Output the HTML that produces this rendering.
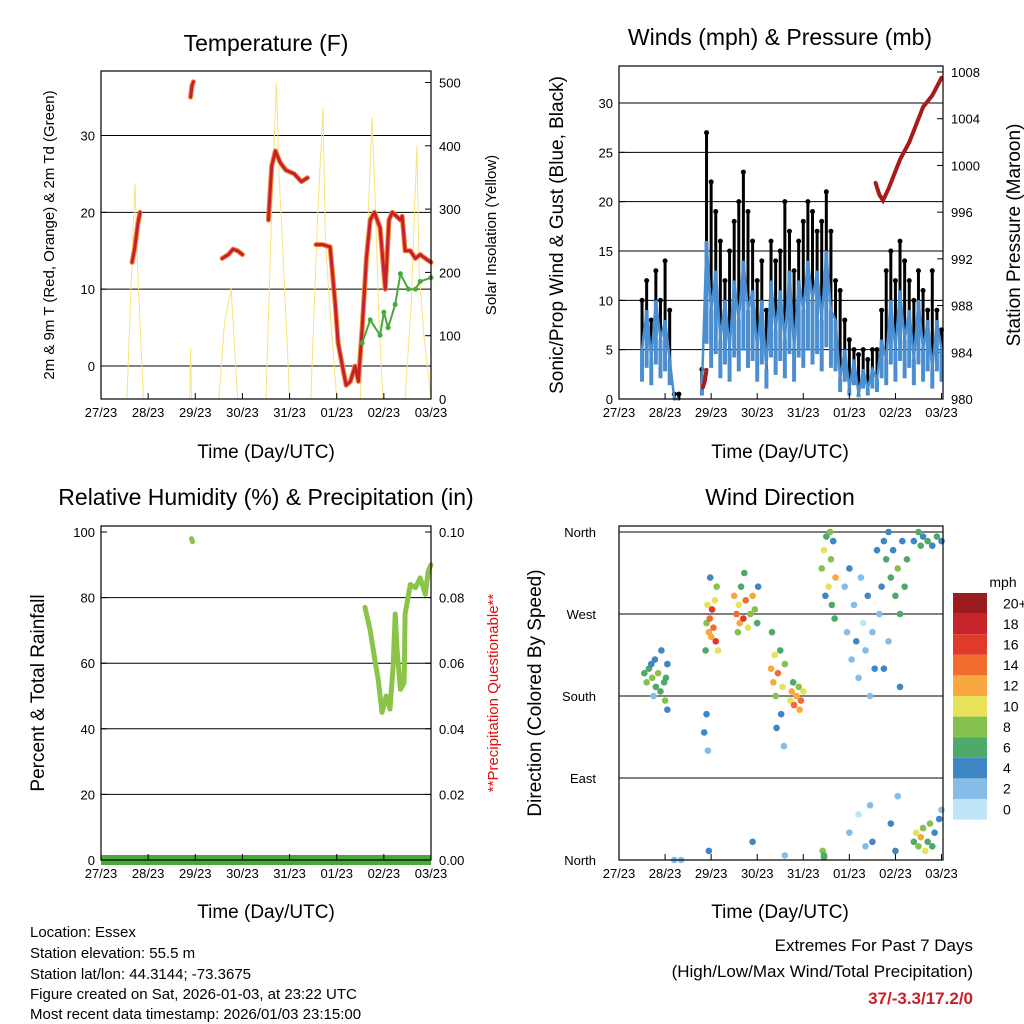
<!DOCTYPE html>
<html><head><meta charset="utf-8">
<style>
html,body{margin:0;padding:0;background:#fff;}
svg{display:block;font-family:"Liberation Sans",sans-serif;}
</style></head>
<body>
<svg id="root" width="1024" height="1024" viewBox="0 0 1024 1024" xmlns="http://www.w3.org/2000/svg">
<g id="g1"></g>
<g id="g2"></g>
<g id="g3"></g>
<g id="g4"></g>
<g id="info">
<text x="30" y="937" font-size="15">Location: Essex</text>
<text x="30" y="958" font-size="15">Station elevation: 55.5 m</text>
<text x="30" y="979" font-size="15">Station lat/lon: 44.3144; -73.3675</text>
<text x="30" y="999" font-size="15">Figure created on Sat, 2026-01-03, at 23:22 UTC</text>
<text x="30" y="1019" font-size="15">Most recent data timestamp: 2026/01/03 23:15:00</text>
</g>
<g>
<text x="973" y="951" font-size="17" text-anchor="end">Extremes For Past 7 Days</text>
<text x="973" y="977" font-size="17" text-anchor="end">(High/Low/Max Wind/Total Precipitation)</text>
<text x="973" y="1004" font-size="17" font-weight="bold" fill="#c8202a" text-anchor="end">37/-3.3/17.2/0</text>
</g>
</svg>
<script>
// ---------- data ----------
const dayLabels = ["27/23","28/23","29/23","30/23","31/23","01/23","02/23","03/23"];
const tempTicks = [0,10,20,30];
const solarTicks = [0,100,200,300,400,500];
const windTicks = [0,5,10,15,20,25,30];
const presTicks = [980,984,988,992,996,1000,1004,1008];
const rhTicks = [0,20,40,60,80,100];
const rainTicks = ["0.00","0.02","0.04","0.06","0.08","0.10"];
const dirLabels = ["North","East","South","West","North"];
const speedBins = ["0","2","4","6","8","10","12","14","16","18","20+"];
const speedColors = ["#bfe6f8","#86bde8","#3f86c5","#4ea96a","#86c04f","#e8e15a","#f9a841","#f26b2f","#e03a2b","#c4242a","#9b1c1f"];

const tempT = [0.66,0.72,0.78,0.83,NaN,1.90,1.93,1.96,NaN,2.57,2.7,2.8,2.9,3.0,NaN,3.55,3.62,3.7,3.8,3.92,4.1,4.25,4.38,NaN,4.56,4.7,4.86,4.97,5.03,5.12,5.2,5.29,5.39,5.46,5.54,5.63,5.71,5.8,5.92,6.03,6.11,6.18,6.35,6.39,6.45,6.56,6.67,6.77,6.88,7.0];
const tempV = [13.5,15.5,18.5,20,NaN,35,36.5,37,NaN,14,14.5,15.2,15,14.5,NaN,19,26,28,26.5,25.5,25,24,24.5,NaN,15.8,15.8,15.5,8,3,0,-2.5,-2,0,-2,5,14,19,20,18,10,19,20,19,19.5,15,15,14,14.5,14,13.5];
const dewT = [5.54,5.71,5.92,6.0,6.09,6.24,6.35,6.52,6.67,6.77,7.0];
const dewV = [3,6,4,7,5,8,12,10,10,11,11.5];
const solarT = [0.55,0.66,0.72,0.78,0.9,NaN,1.88,1.9,1.92,NaN,2.5,2.62,2.76,2.82,2.9,NaN,3.5,3.62,3.72,3.78,3.88,4.0,NaN,4.45,4.6,4.71,4.76,4.85,5.0,NaN,5.5,5.62,5.75,5.8,5.9,5.98,NaN,6.45,6.58,6.7,6.75,6.85,7.0];
const solarV = [0,220,340,200,0,NaN,0,80,0,NaN,0,120,175,100,0,NaN,0,300,500,350,200,0,NaN,0,300,460,250,150,0,NaN,0,200,445,350,120,0,NaN,0,150,400,200,100,0];

const windT = [0.5,0.6,0.7,0.8,0.9,1.0,1.1,1.2,1.3,1.4,1.5,1.6,1.7,1.8,1.9,2.0,2.1,2.2,2.3,2.4,2.5,2.6,2.7,2.8,2.9,3.0,3.1,3.2,3.3,3.4,3.5,3.6,3.7,3.8,3.9,4.0,4.1,4.2,4.3,4.4,4.5,4.6,4.7,4.8,4.9,5.0,5.1,5.2,5.3,5.4,5.5,5.6,5.7,5.8,5.9,6.0,6.1,6.2,6.3,6.4,6.5,6.6,6.7,6.8,6.9,7.0];
const gustV = [10,12,8,13,10,14,9,0.5,0.5,NaN,NaN,NaN,NaN,3,27,22,19,16,12,15,18,20,23,19,16,12,14,9,16,14,15,20,17,13,16,18,20,19,17,18,21,17,12,11,8,6,5,4.5,5,4,5,5,9,13,15,12,16,14,12,10,13,11,9,13,9,7];
const windV = [5,9,4,10,6,8,4,0,0,NaN,NaN,NaN,NaN,1,16,9,13,6,10,5,12,8,14,9,11,5,10,3,12,7,11,6,13,5,12,9,14,10,13,8,15,9,8,2,5,1,4,0.5,3,1,3,2,6,4,10,5,11,6,9,4,10,5,8,3,8,5];
const presT = [1.82,1.86,1.9,NaN,5.57,5.65,5.73,5.85,6.1,6.3,6.5,6.6,6.8,7.0];
const presV = [981,981.5,982.5,NaN,998.5,997.5,997,998,1000.5,1002,1004,1005,1006,1007.5];

const rhT = [1.92,1.94,NaN,5.6,5.71,5.82,5.88,5.96,6.05,6.13,6.2,6.24,6.28,6.35,6.43,6.45,6.56,6.67,6.77,6.88,6.94,7.0];
const rhV = [98,97,NaN,77,70,60,55,45,50,46,60,75,64,52,54,75,84,83,86,81,88,90];
const rainT = [0,7];
const rainV = [0,0];

const dirObs = [[0.55,205,6],[0.6,195,7],[0.65,210,5],[0.7,215,4],[0.72,200,8],[0.78,220,3],[0.8,190,6],[0.85,205,7],[0.9,185,5],[0.92,230,4],[0.98,195,6],[1.0,175,7],[1.02,200,5],[1.05,165,3],[1.05,215,4],[0.75,180,2],
[1.85,140,4],[1.88,230,5],[1.9,260,8],[1.92,280,10],[1.95,250,12],[1.97,265,14],[2.0,245,11],[2.02,275,16],[2.05,255,13],[2.08,285,9],[2.1,240,15],[1.9,160,3],[1.93,120,2],[1.98,310,4],[2.12,300,7],[2.15,230,10],
[2.5,290,12],[2.55,270,14],[2.6,280,9],[2.62,260,11],[2.65,300,6],[2.7,265,16],[2.75,285,13],[2.8,255,10],[2.85,270,7],[2.9,290,12],[2.95,275,8],[3.0,260,5],[3.02,300,4],[2.58,250,8],[2.72,315,5],
[3.3,210,11],[3.35,195,12],[3.38,225,10],[3.4,180,8],[3.45,205,13],[3.5,230,6],[3.52,160,4],[3.55,190,9],[3.6,215,7],[3.42,145,3],[3.58,125,2],[3.32,250,5],
[3.72,175,10],[3.75,185,12],[3.8,170,14],[3.85,180,11],[3.9,190,8],[3.95,175,13],[4.0,185,9],[3.78,195,6],[3.92,165,12],
[4.4,320,7],[4.45,340,9],[4.5,355,6],[4.55,300,10],[4.6,330,8],[4.62,280,5],[4.65,350,4],[4.7,310,11],[4.48,290,3],[4.58,360,7],[4.68,265,6],[4.42,10,7],[4.45,5,5],
[4.9,300,2],[4.95,250,1],[5.0,320,3],[5.05,220,2],[5.1,280,1],[5.15,240,3],[5.2,200,2],[5.25,310,1],[5.3,260,0],[5.35,230,2],[5.4,290,3],[5.45,180,1],[5.5,250,2],[5.55,210,4],[5.6,340,3],[5.65,270,2],[5.0,30,1],[5.2,50,0],[5.35,15,2],[5.45,60,1],[5.5,20,3],
[5.7,300,3],[5.75,350,4],[5.8,330,5],[5.85,360,4],[5.9,310,6],[5.95,340,3],[6.0,290,5],[6.05,320,7],[6.1,270,6],[6.15,350,4],[6.2,300,6],[6.25,330,5],[5.75,210,4],[5.85,240,2],[6.1,190,3],[5.9,40,3],[6.0,10,4],[6.05,70,2],
[6.4,350,4],[6.5,360,6],[6.55,345,5],[6.6,355,3],[6.7,350,6],[6.8,345,4],[6.9,355,5],[7.0,350,4],[6.4,20,6],[6.45,30,10],[6.5,15,8],[6.55,25,12],[6.6,35,7],[6.65,10,9],[6.7,20,6],[6.75,40,8],[6.8,15,5],[6.85,30,4],[6.95,45,3],[7.0,55,2],
[1.2,0,1],[1.35,0,1],[1.95,10,3],[2.9,20,3],[3.6,5,2],[4.45,3,6]];

// ---------- helpers ----------
const NS = "http://www.w3.org/2000/svg";
function mk(parent, tag, attrs, text){
  const e = document.createElementNS(NS, tag);
  for (const k in attrs) e.setAttribute(k, attrs[k]);
  if (text !== undefined) e.textContent = text;
  parent.appendChild(e);
  return e;
}
function lin(d0,d1,r0,r1){ return v => r0 + (v-d0)*(r1-r0)/(d1-d0); }
function pathFrom(T,V,sx,sy){
  let d="", pen=false;
  for (let i=0;i<T.length;i++){
    if (isNaN(T[i])||isNaN(V[i])){pen=false;continue;}
    d += (pen?"L":"M") + sx(T[i]).toFixed(1)+","+sy(V[i]).toFixed(1);
    pen=true;
  }
  return d;
}
function speedColor(s){ let i=Math.min(10,Math.floor((s+1)/2)); if(s>=20) i=10; return speedColors[i]; }

function frame(g, L, T, R, B, xs){
  dayLabels.forEach((lab,i)=>{
    const x = xs(i);
    const tk = mk(g,"line",{x1:x,y1:B,x2:x,y2:B-6,stroke:"#000","stroke-width":1});
    
    
    const t = mk(g,"text",{x:x,y:B+18,"font-size":13,"text-anchor":"middle"},lab);
    
    
  });
  const r = mk(g,"rect",{x:L,y:T,width:R-L,height:B-T,fill:"none",stroke:"#000","stroke-width":1.2});
  
  
}
function hText(g,x,y,size,txt,name,anchor,extra){
  const t = mk(g,"text",Object.assign({x:x,y:y,"font-size":size,"text-anchor":anchor||"middle"},extra||{}),txt);
  
  
  return t;
}
function vText(g,x,y,size,txt,name,fill){
  const t = mk(g,"text",{x:x,y:y,"font-size":size,"text-anchor":"middle",transform:"rotate(-90 "+x+" "+y+")",fill:fill||"#000"},txt);
  
  
  return t;
}
function yAxis(g, ticks, sy, x, side, grid, L, R, labels){
  ticks.forEach((v,i)=>{
    const y = sy(v);
    if (grid) { const gl = mk(g,"line",{x1:L,y1:y,x2:R,y2:y,stroke:"#000","stroke-width":1});
      
       }
    const tk = mk(g,"line",{x1:x,y1:y,x2:x+(side==="left"?6:-6),y2:y,stroke:"#000"});
    
    
    const t = mk(g,"text",{x:side==="left"?x-6:x+8,y:y+5,"font-size":13,"text-anchor":side==="left"?"end":"start"},labels?labels[i]:String(v));
    
    
  });
}

// ---------- Panel 1: Temperature ----------
(function(){
  const g = document.getElementById("g1");
  const L=101,R=431,T=71,B=399;
  const sx = lin(0,7,L,R), sy = lin(0,30,366,135.5), ss = lin(0,500,399,82.5);
  yAxis(g,tempTicks,sy,L,"left",true,L,R);
  yAxis(g,solarTicks,ss,R,"right",false,L,R);
  const sol = mk(g,"path",{d:pathFrom(solarT,solarV,sx,ss),fill:"none",stroke:"#fae27a","stroke-width":1});
  
  
  const o = mk(g,"path",{d:pathFrom(tempT,tempV,sx,sy),fill:"none",stroke:"#f08a3c","stroke-width":5,"stroke-linejoin":"round","stroke-linecap":"round"});
  
  
  const r = mk(g,"path",{d:pathFrom(tempT,tempV,sx,sy),fill:"none",stroke:"#c8202a","stroke-width":3,"stroke-linejoin":"round","stroke-linecap":"round"});
  
  
  const dl = mk(g,"path",{d:pathFrom(dewT,dewV,sx,sy),fill:"none",stroke:"#4aa83a","stroke-width":2});
  
  
  dewT.forEach((t,i)=>{
    const c = mk(g,"circle",{cx:sx(t),cy:sy(dewV[i]),r:2.5,fill:"#4aa83a"});
    
    
  });
  frame(g,L,T,R,B,sx);
  hText(g,266,51,23,"Temperature (F)","chart-title");
  hText(g,266,458,19,"Time (Day/UTC)","x-axis-title");
  vText(g,54,235,15,"2m & 9m T (Red, Orange) & 2m Td (Green)","y-axis-title");
  vText(g,496,235,15,"Solar Insolation (Yellow)","y2-axis-title");
})();

// ---------- Panel 2: Winds ----------
(function(){
  const g = document.getElementById("g2");
  const L=619,R=943,T=66,B=399;
  const sx = lin(0,7,L,941.5), sy = lin(0,30,399,103), sp = lin(980,1008,399,72);
  yAxis(g,windTicks,sy,L,"left",true,L,R);
  yAxis(g,presTicks,sp,R,"right",false,L,R);
  windT.forEach((t,i)=>{
    if (isNaN(gustV[i])) return;
    const b = mk(g,"line",{x1:sx(t),y1:sy(windV[i]),x2:sx(t),y2:sy(gustV[i]),stroke:"#000","stroke-width":3,"stroke-linecap":"round"});
    
    
    const c = mk(g,"circle",{cx:sx(t),cy:sy(gustV[i]),r:2.5,fill:"#000"});
    
    
  });
  windT.forEach((t,i)=>{
    if (isNaN(windV[i])) return;
    const b = mk(g,"line",{x1:sx(t),y1:sy(windV[i]*0.35),x2:sx(t),y2:sy(windV[i]),stroke:"#4b8fd0","stroke-width":4});
    
    
  });
  const wl = mk(g,"path",{d:pathFrom(windT,windV,sx,sy),fill:"none",stroke:"#4b8fd0","stroke-width":2.5});
  
  
  const pl = mk(g,"path",{d:pathFrom(presT,presV,sx,sp),fill:"none",stroke:"#a51c1c","stroke-width":4,"stroke-linecap":"round"});
  
  
  frame(g,L,T,R,B,sx);
  hText(g,780,45,23,"Winds (mph) & Pressure (mb)","chart-title");
  hText(g,780,458,19,"Time (Day/UTC)","x-axis-title");
  vText(g,563,235,19,"Sonic/Prop Wind & Gust (Blue, Black)","y-axis-title");
  vText(g,1020,235,19,"Station Pressure (Maroon)","y2-axis-title");
})();

// ---------- Panel 3: RH ----------
(function(){
  const g = document.getElementById("g3");
  const L=101,R=431,T=526,B=860;
  const sx = lin(0,7,L,R), sy = lin(0,100,860,532), sr = lin(0,0.1,860,532);
  yAxis(g,rhTicks.slice(1,5),sy,L,"left",true,L,R);
  yAxis(g,[0,100],sy,L,"left",false,L,R);
  yAxis(g,[0,0.02,0.04,0.06,0.08,0.1],sr,R,"right",false,L,R,rainTicks);
  const rl = mk(g,"path",{d:pathFrom(rainT,rainV,sx,sr),fill:"none",stroke:"#4aa83a","stroke-width":10});
  
  
  const hl = mk(g,"path",{d:pathFrom(rhT,rhV,sx,sy),fill:"none",stroke:"#8cc44a","stroke-width":5,"stroke-linejoin":"round","stroke-linecap":"round"});
  
  
  frame(g,L,T,R,B,sx);
  hText(g,266,505,23,"Relative Humidity (%) & Precipitation (in)","chart-title");
  hText(g,266,918,19,"Time (Day/UTC)","x-axis-title");
  vText(g,44,693,19,"Percent & Total Rainfall","y-axis-title");
  vText(g,498,693,15,"**Precipitation Questionable**","y2-axis-title","#e01010");
})();

// ---------- Panel 4: Wind Direction ----------
(function(){
  const g = document.getElementById("g4");
  const L=619,R=943,T=526,B=860;
  const sx = lin(0,7,L,941.5), sy = lin(0,360,860,532);
  [90,180,270,360].forEach(v=>{
    const gl = mk(g,"line",{x1:L,y1:sy(v),x2:R,y2:sy(v),stroke:"#000"});
    
    
  });
  dirLabels.forEach((lab,i)=>{
    const y = sy(i*90);
    const t = mk(g,"text",{x:596,y:y+5,"font-size":13,"text-anchor":"end"},lab);
    
    
  });
  dirObs.forEach(o=>{
    const c = mk(g,"circle",{cx:sx(o[0]),cy:sy(o[1]),r:3.3,fill:speedColor(o[2])});
    
    
  });
  frame(g,L,T,R,B,sx);
  hText(g,780,505,23,"Wind Direction","chart-title");
  hText(g,780,918,19,"Time (Day/UTC)","x-axis-title");
  vText(g,541,693,19,"Direction (Colored By Speed)","y-axis-title");
  hText(g,1003,587,14,"mph","colorbar-title");
  const cbTop=593, h=20.6;
  for (let i=0;i<11;i++){
    const idx = 10-i;
    const rc = mk(g,"rect",{x:953,y:cbTop+i*h,width:34,height:h,fill:speedColors[idx]});
    
    
    const t = mk(g,"text",{x:1003,y:cbTop+i*h+h/2+5,"font-size":14,"text-anchor":"start"},speedBins[idx]);
    
    
  }
})();
</script>
</body></html>
